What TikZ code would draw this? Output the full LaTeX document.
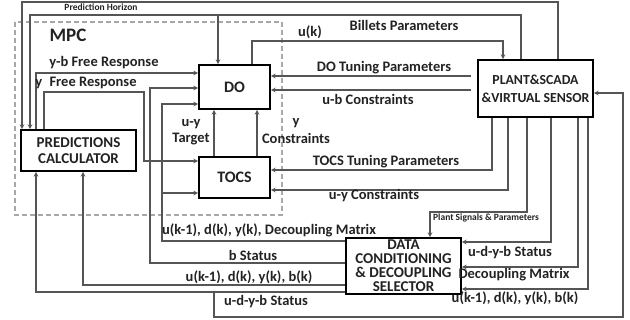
\documentclass[tikz,border=0pt]{standalone}
\usepackage{fontspec}
\setmainfont{Carlito}
\usetikzlibrary{positioning}
\definecolor{wire}{HTML}{555555}
\definecolor{frame}{HTML}{A8A8A8}
\definecolor{ink}{HTML}{222222}

\begin{document}
\begin{tikzpicture}[x=1pt, y=-1pt, >=stealth,
  every node/.style={text=ink},
  box/.style={draw=black, line width=1.8pt, fill=white, align=center, inner sep=0pt, font=\fontsize{15}{16}\selectfont\bfseries},
  sig/.style={draw=wire, line width=1.1pt},
  lbl/.style={inner sep=0pt, font=\fontsize{14.5}{16}\selectfont\bfseries},
  tinylbl/.style={inner sep=0pt, font=\fontsize{9.5}{11}\selectfont\bfseries}]
\useasboundingbox (0,0) rectangle (630,320);

\draw[draw=frame, line width=1.2pt, dash pattern=on 5pt off 3pt] (15,22) rectangle (282,215);
\node[font=\fontsize{19}{20}\selectfont\bfseries] (mpclbl) at (68,35) {MPC};

\node[box, minimum width=115pt, minimum height=41pt] (pc) at (78.5,150.5) {PREDICTIONS\\CALCULATOR};
\node[box, minimum width=71pt, minimum height=44pt, font=\fontsize{16}{18}\selectfont\bfseries] (do) at (234.5,87) {DO};
\node[box, minimum width=71pt, minimum height=41pt, font=\fontsize{16}{18}\selectfont\bfseries, below=46pt of do] (tocs) {TOCS};
\node[box, minimum width=115pt, minimum height=57pt, font=\fontsize{13.8}{15}\selectfont\bfseries] (plant) at (535.5,88.5) {PLANT\&SCADA\\[3pt]\&VIRTUAL SENSOR};
\node[box, minimum width=115pt, minimum height=56pt, font=\fontsize{15}{14}\selectfont\bfseries] (dcds) at (403.5,266) {DATA\\CONDITIONING\\\& DECOUPLING\\SELECTOR};

\coordinate (dotune) at (471,76);
\coordinate (ubcon) at (471,90);

\draw[sig,->] (558,0 |- plant.north) |- (22,2) -- (22,0 |- pc.north);
\draw[sig,->] (521,0 |- plant.north) |- (30,15) -- (30,0 |- pc.north);
\draw[sig,->] (218,15) -- (218,0 |- do.north);
\draw[sig,->] (252,0 |- do.north) |- (503,41) -- (503,0 |- plant.north);
\draw[sig,->] (36,0 |- pc.north) |- (do.west |- 0,73);
\draw[sig,->] (44,0 |- pc.north) |- (144,92) |- (tocs.west |- 0,161);
\draw[sig,->] (dcds.west |- 0,263) -| (150,88) -- (do.west |- 0,88);
\draw[sig,->] (dcds.west |- 0,241) -| (162,104) -- (do.west |- 0,104);
\draw[sig,->] (162,193) -- (tocs.west |- 0,193);
\draw[sig,->] (214,0 |- tocs.north) -- (214,0 |- do.south);
\draw[sig,->] (257,0 |- tocs.north) -- (257,0 |- do.south);
\draw[sig,->] (dotune) -- (dotune -| do.east);
\draw[sig,->] (ubcon) -- (ubcon -| do.east);
\draw[sig,->] (492,0 |- plant.south) |- (tocs.east |- 0,170);
\draw[sig,->] (508,0 |- plant.south) |- (tocs.east |- 0,190);
\draw[sig,->] (527,0 |- plant.south) |- (430,212) -- (430,0 |- dcds.north);
\draw[sig,->] (551,0 |- plant.south) |- (dcds.east |- 0,242);
\draw[sig,->] (578,0 |- plant.south) |- (dcds.east |- 0,267);
\draw[sig,->] (588,0 |- plant.south) |- (dcds.east |- 0,289);
\draw[sig,->] (dcds.west |- 0,285) -| (83,0 |- pc.south);
\draw[sig,->] (dcds.west |- 0,292) -| (36,0 |- pc.south);
\draw[sig,->] (214,292) |- (623,317) |- (plant.east |- 0,93);

\node[tinylbl] (phlbl) at (101,7) {Prediction Horizon};
\node[lbl] (bplbl) at (404,25) {Billets Parameters};
\node[lbl] (uklbl) at (310,32) {u(k)};
\node[lbl] (ybfree) at (104,63) {y-b Free Response};
\node[lbl] (yfree) at (86,83) {y\enspace Free Response};
\node[lbl] (dotunlbl) at (384,68) {DO Tuning Parameters};
\node[lbl] (ubconlbl) at (368,99) {u-b Constraints};
\node[lbl, align=center] (targetlbl) at (191,132) {u-y\\Target};
\node[lbl, align=center] (yconlbl) at (296,131) {y\\[2pt]Constraints};
\node[lbl] (tocstunlbl) at (386,162) {TOCS Tuning Parameters};
\node[lbl] (uyconlbl) at (374,196) {u-y Constraints};
\node[tinylbl] (pslbl) at (486,218) {Plant Signals \& Parameters};
\node[lbl] (decmatlbl) at (269,230) {u(k-1), d(k), y(k), Decoupling Matrix};
\node[lbl] (bstatlbl) at (253,255) {b Status};
\node[lbl] (measlbl) at (249,277) {u(k-1), d(k), y(k), b(k)};
\node[lbl] (statlbl) at (266,302) {u-d-y-b Status};
\node[lbl] (rstatlbl) at (510,253) {u-d-y-b Status};
\node[lbl] (rdecmatlbl) at (514,275) {Decoupling Matrix};
\node[lbl] (rmeaslbl) at (515,298) {u(k-1), d(k), y(k), b(k)};
\end{tikzpicture}
\end{document}
